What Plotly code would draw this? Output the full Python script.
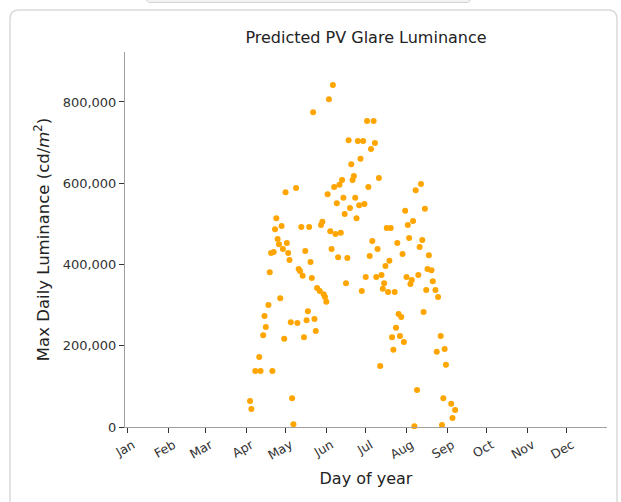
import plotly.graph_objects as go

# Day of year (1 = Jan 1) and the maximum predicted glare luminance on that day
day_of_year = [
    94, 95, 98, 101, 102, 104, 105, 106, 108, 109, 110, 111, 112, 113, 114, 115,
    116, 117, 118, 119, 120, 121, 122, 123, 124, 125, 126, 127, 129, 130, 131, 132,
    133, 134, 135, 136, 137, 138, 139, 140, 141, 142, 143, 144, 145, 147, 148, 149,
    150, 151, 152, 153, 154, 155, 156, 157, 158, 159, 160, 161, 162, 163, 164, 165,
    166, 167, 168, 169, 170, 171, 172, 173, 174, 175, 176, 177, 178, 179, 180, 181,
    182, 183, 184, 185, 186, 187, 188, 189, 190, 191, 192, 193, 194, 195, 196, 197,
    198, 199, 200, 201, 202, 203, 204, 205, 206, 207, 208, 209, 210, 211, 212, 213,
    214, 215, 216, 217, 218, 219, 220, 221, 222, 223, 224, 225, 226, 227, 228, 229,
    230, 232, 233, 235, 236, 237, 239, 240, 241, 242, 243, 247, 248, 250,
]
max_luminance = [
    64000, 44000, 138000, 172000, 138000, 226000, 273000, 246000, 300000, 381000,
    428000, 138000, 431000, 487000, 514000, 463000, 450000, 317000, 495000, 438000,
    217000, 578000, 453000, 428000, 411000, 258000, 71000, 7000, 588000, 256000,
    389000, 384000, 492000, 372000, 221000, 433000, 263000, 285000, 492000, 406000,
    367000, 775000, 266000, 236000, 342000, 335000, 497000, 505000, 327000, 320000,
    308000, 573000, 807000, 482000, 438000, 842000, 591000, 475000, 551000, 418000,
    596000, 478000, 608000, 564000, 524000, 354000, 416000, 706000, 539000, 647000,
    608000, 618000, 564000, 514000, 704000, 546000, 660000, 335000, 704000, 549000,
    369000, 753000, 591000, 421000, 684000, 458000, 753000, 699000, 369000, 438000,
    613000, 150000, 374000, 340000, 354000, 396000, 490000, 332000, 409000, 490000,
    221000, 190000, 332000, 244000, 453000, 278000, 224000, 271000, 426000, 209000,
    532000, 369000, 497000, 465000, 352000, 362000, 507000, 2000, 583000, 91000,
    374000, 443000, 598000, 460000, 283000, 537000, 337000, 389000, 423000, 386000,
    359000, 337000, 185000, 320000, 224000, 5000, 71000, 192000, 153000, 57000,
    22000, 42000,
]

month_start_days = [1, 32, 60, 91, 121, 152, 182, 213, 244, 274, 305, 335]
month_labels = ["Jan", "Feb", "Mar", "Apr", "May", "Jun",
                "Jul", "Aug", "Sep", "Oct", "Nov", "Dec"]
luminance_ticks = [0, 200000, 400000, 600000, 800000]

W, H = 621, 502
PL, PR, PT, PB = 125, 14, 52, 75
plot_w = W - PL - PR
plot_h = H - PT - PB
FONT = "DejaVu Sans"


def paper_x(px):
    return (px - PL) / plot_w


def paper_y(py):
    return (H - PB - py) / plot_h


def rounded_rect(x0, y0, x1, y1, r):
    """SVG path (paper units) for a rectangle with rounded corners, pixel input."""
    pts = [
        ("M", [(x0 + r, y0)]),
        ("L", [(x1 - r, y0)]),
        ("Q", [(x1, y0), (x1, y0 + r)]),
        ("L", [(x1, y1 - r)]),
        ("Q", [(x1, y1), (x1 - r, y1)]),
        ("L", [(x0 + r, y1)]),
        ("Q", [(x0, y1), (x0, y1 - r)]),
        ("L", [(x0, y0 + r)]),
        ("Q", [(x0, y0), (x0 + r, y0)]),
    ]
    parts = []
    for cmd, coords in pts:
        parts.append(cmd + " " + " ".join(
            f"{paper_x(x):.5f},{paper_y(y):.5f}" for x, y in coords))
    return " ".join(parts) + " Z"


fig = go.Figure(
    go.Scatter(
        x=day_of_year,
        y=max_luminance,
        mode="markers",
        marker=dict(color="#FFA500", size=6, line=dict(width=0)),
        cliponaxis=False,
        hoverinfo="x+y",
    )
)

fig.update_layout(
    width=W,
    height=H,
    margin=dict(l=PL, r=PR, t=PT, b=PB),
    paper_bgcolor="white",
    plot_bgcolor="white",
    showlegend=False,
    font=dict(family=FONT, color="#333333"),
    title=dict(
        text="Predicted PV Glare Luminance",
        font=dict(family=FONT, size=16, color="#222222"),
        xref="paper", x=0.5, xanchor="center",
        yref="container", y=1 - 37 / H, yanchor="middle",
    ),
    shapes=[
        dict(type="path", xref="paper", yref="paper",
             path=rounded_rect(10, 10, 617, 540, 9),
             line=dict(color="#dadada", width=1.5), fillcolor="rgba(0,0,0,0)",
             layer="below"),
        dict(type="path", xref="paper", yref="paper",
             path=rounded_rect(146, -20, 471, 2.5, 5),
             line=dict(color="#d4d4d4", width=1), fillcolor="#f3f3f3",
             layer="below"),
    ],
)

fig.update_xaxes(
    range=[-1.1, 365.5],
    tickvals=month_start_days,
    ticktext=month_labels,
    tickangle=-30,
    ticklabelshift=5,
    tickfont=dict(family=FONT, size=12.5, color="#333333"),
    showline=True, linecolor="#a0a0a0", linewidth=1,
    ticks="outside", ticklen=5, tickcolor="#333333", tickwidth=1,
    showgrid=False, zeroline=False,
    title=dict(text="Day of year", font=dict(family=FONT, size=16, color="#222222"),
               standoff=11),
)

fig.update_yaxes(
    range=[0, 923000],
    tickvals=luminance_ticks,
    tickformat=",d",
    tickfont=dict(family=FONT, size=13, color="#333333"),
    showline=True, linecolor="#a0a0a0", linewidth=1,
    ticks="outside", ticklen=5, tickcolor="#333333", tickwidth=1,
    showgrid=False, zeroline=False,
    title=dict(text="Max Daily Luminance (cd/<i>m</i><sup>2</sup>)",
               font=dict(family=FONT, size=16.5, color="#222222"), standoff=8),
)

fig.write_html("out.html")
